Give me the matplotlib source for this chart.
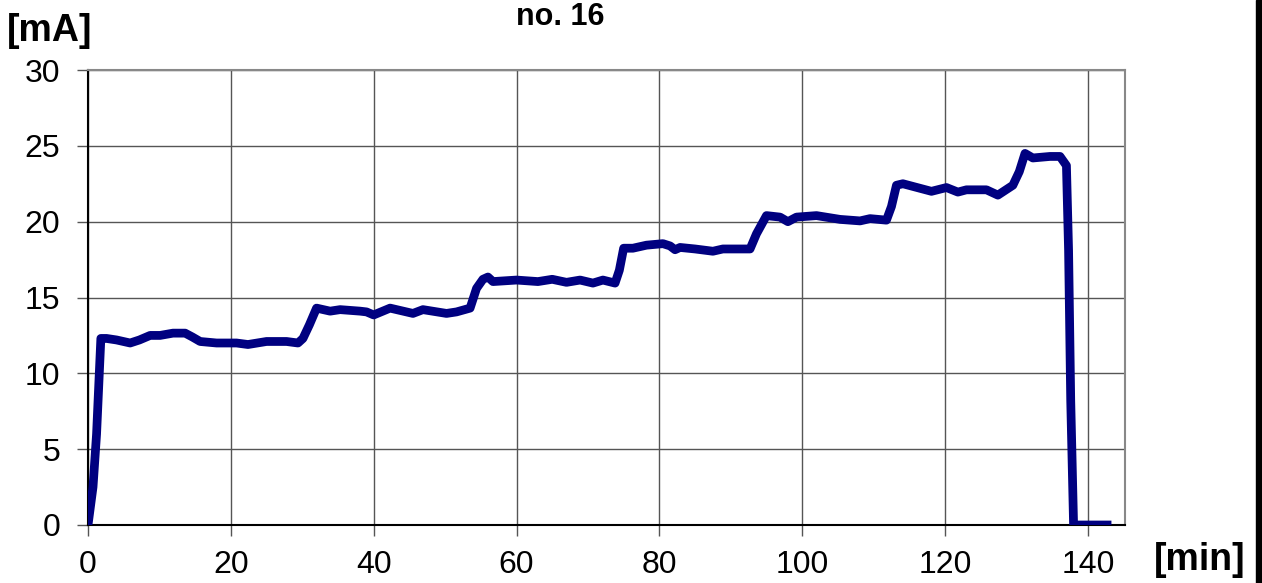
import matplotlib
matplotlib.use("Agg")
from matplotlib import pyplot as plt
from matplotlib.patches import Rectangle

plt.rcParams['font.family'] = ['Liberation Sans', 'DejaVu Sans']

# current trace: time [min], current [mA]
minutes = [0, 0.7, 1.2, 1.8, 2.6, 4.0, 5.9, 7.2, 8.7, 10.1, 11.9, 13.6, 14.6, 15.7,
           18.0, 20.8, 22.4, 25.0, 27.8, 29.4, 30.1, 31.0, 32.0, 33.9, 35.3, 38.1,
           39.0, 40.0, 42.3, 45.5, 46.9, 50.2, 51.6, 53.5, 54.4, 55.3, 56.0, 56.7,
           60.0, 63.0, 65.0, 67.0, 68.9, 70.7, 72.1, 73.8, 74.4, 75.0, 76.3, 78.2,
           80.5, 81.5, 82.2, 82.9, 85.0, 87.5, 88.9, 92.7, 93.6, 95.0, 96.9, 98.0,
           99.2, 102.0, 105.3, 108.1, 109.5, 111.8, 112.5, 113.2, 114.1, 116.5, 118.1,
           120.2, 121.8, 123.0, 125.8, 127.4, 129.5, 130.4, 131.2, 132.3, 134.7,
           136.1, 137.0, 137.3, 137.6, 138.0, 140.0, 143.3]
current = [0, 2.5, 6.0, 12.3, 12.3, 12.2, 12.0, 12.2, 12.5, 12.5, 12.65, 12.65, 12.4, 12.1,
           12.0, 12.0, 11.9, 12.1, 12.1, 12.0, 12.3, 13.2, 14.3, 14.1, 14.2, 14.1,
           14.05, 13.85, 14.3, 13.95, 14.2, 13.95, 14.05, 14.3, 15.6, 16.2, 16.35, 16.05,
           16.15, 16.05, 16.2, 16.0, 16.15, 15.95, 16.15, 15.95, 16.8, 18.25, 18.25, 18.45,
           18.55, 18.4, 18.15, 18.3, 18.2, 18.05, 18.2, 18.2, 19.2, 20.4, 20.3, 20.0,
           20.3, 20.4, 20.15, 20.05, 20.2, 20.1, 21.0, 22.4, 22.5, 22.2, 22.0,
           22.25, 21.95, 22.1, 22.1, 21.75, 22.4, 23.3, 24.5, 24.2, 24.3,
           24.3, 23.7, 18.1, 8.2, 0, 0, 0]

x_ticks = [0, 20, 40, 60, 80, 100, 120, 140]
y_ticks = [0, 5, 10, 15, 20, 25, 30]

fig = plt.figure(figsize=(12.62, 5.83), dpi=100)
ax = fig.add_axes([88 / 1262, 1 - 525 / 583, (1125 - 88) / 1262, (525 - 70) / 583])

ax.plot(minutes, current, color='#000080', lw=6.3, solid_joinstyle='round',
        solid_capstyle='butt', zorder=3)

ax.set_xlim(0, 145.2)
ax.set_ylim(0, 30)
ax.set_xticks(x_ticks)
ax.set_yticks(y_ticks)
ax.grid(True, color='#555555', lw=1)
ax.tick_params(direction='out', length=8, width=1, color='#555555',
               labelsize=23)
ax.tick_params(axis='y', pad=12)
ax.tick_params(axis='x', pad=10)

ax.spines['left'].set_color('black')
ax.spines['bottom'].set_color('black')
ax.spines['top'].set_color('#888888')
ax.spines['right'].set_color('#888888')
for s in ax.spines.values():
    s.set_linewidth(1.5)

fig.text(560 / 1262, 1 - 17 / 583, 'no. 16', ha='center', va='center',
         fontsize=22, fontweight='bold')
fig.text(50 / 1262, 1 - 31 / 583, '[mA]', ha='center', va='center',
         fontsize=27, fontweight='bold')
fig.text(1200 / 1262, 1 - 560 / 583, '[min]', ha='center', va='center',
         fontsize=27, fontweight='bold')

# black border strip at the right edge of the picture
fig.add_artist(Rectangle((1256 / 1262, 0), 6 / 1262, 1, transform=fig.transFigure,
                         color='black'))

fig.savefig('out.png', dpi=100)
